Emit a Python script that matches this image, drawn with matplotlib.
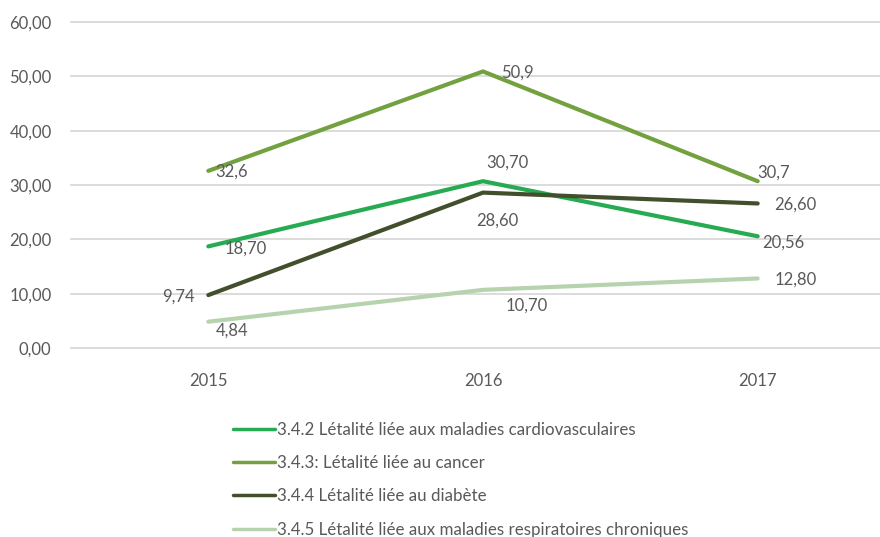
import matplotlib
matplotlib.use("Agg")
import matplotlib.pyplot as plt

# data
years = ["2015", "2016", "2017"]
cardio = [18.70, 30.70, 20.56]
cancer = [32.6, 50.9, 30.7]
diabete = [9.74, 28.60, 26.60]
respi = [4.84, 10.70, 12.80]

cardio_lbl = ["18,70", "30,70", "20,56"]
cancer_lbl = ["32,6", "50,9", "30,7"]
diabete_lbl = ["9,74", "28,60", "26,60"]
respi_lbl = ["4,84", "10,70", "12,80"]

names = ["3.4.2 Létalité liée aux maladies cardiovasculaires",
         "3.4.3: Létalité liée au cancer",
         "3.4.4 Létalité liée au diabète",
         "3.4.5 Létalité liée aux maladies respiratoires chroniques"]
colors = ["#27AB52", "#73A13F", "#414F2C", "#B6D3AE"]

plt.rcParams['font.family'] = ['Lato', 'DejaVu Sans']
grey = "#595959"

fig = plt.figure(figsize=(8.8, 5.37), dpi=100)
ax = fig.add_axes([71/880, 1-348/537, 824/880, 326/537])

x = range(len(years))
series = [cardio, cancer, diabete, respi]
labels = [cardio_lbl, cancer_lbl, diabete_lbl, respi_lbl]
lines = []
for s, c in zip(series, colors):
    l, = ax.plot(x, s, color=c, lw=3, solid_capstyle='round', solid_joinstyle='round', zorder=3)
    lines.append(l)

# label offsets in pixels (dx, dy) for each point
offs = [
    [(37, -2), (24, 19), (26, -6)],
    [(23, -1), (34, -1), (16, 9)],
    [(-30, -2), (14, -28), (38, -1)],
    [(24, -9), (44, -16), (38, -1)],
]
for s, lb, of in zip(series, labels, offs):
    for i in range(len(s)):
        ax.annotate(lb[i], (i, s[i]), xytext=of[i], textcoords='offset pixels',
                    ha='center', va='center', fontsize=12, color=grey, zorder=4)

ax.set_xlim(-0.5, 2.5)
ax.set_ylim(0, 60)
ax.set_yticks(range(0, 61, 10))
ax.set_yticklabels([f"{v},00" for v in range(0, 61, 10)])
ax.set_xticks(list(x))
ax.set_xticklabels(years)
ax.grid(axis='y', color="#D9D9D9", lw=1.3)
for gl in ax.get_ygridlines():
    gl.set_clip_on(False)
ax.set_axisbelow(True)
for sp in ax.spines.values():
    sp.set_visible(False)
ax.tick_params(length=0, labelsize=12, colors=grey)
ax.tick_params(axis='x', pad=18)
ax.tick_params(axis='y', pad=14)

leg = fig.legend(lines, names, loc='upper left', bbox_to_anchor=(226/880, 1-415/537),
                 frameon=False, fontsize=12.2, labelcolor=grey, handlelength=2.5,
                 handletextpad=0.1, labelspacing=1.02, borderaxespad=0)
for h in leg.get_lines():
    h.set_linewidth(2.5)

fig.savefig("out.png", dpi=100)
